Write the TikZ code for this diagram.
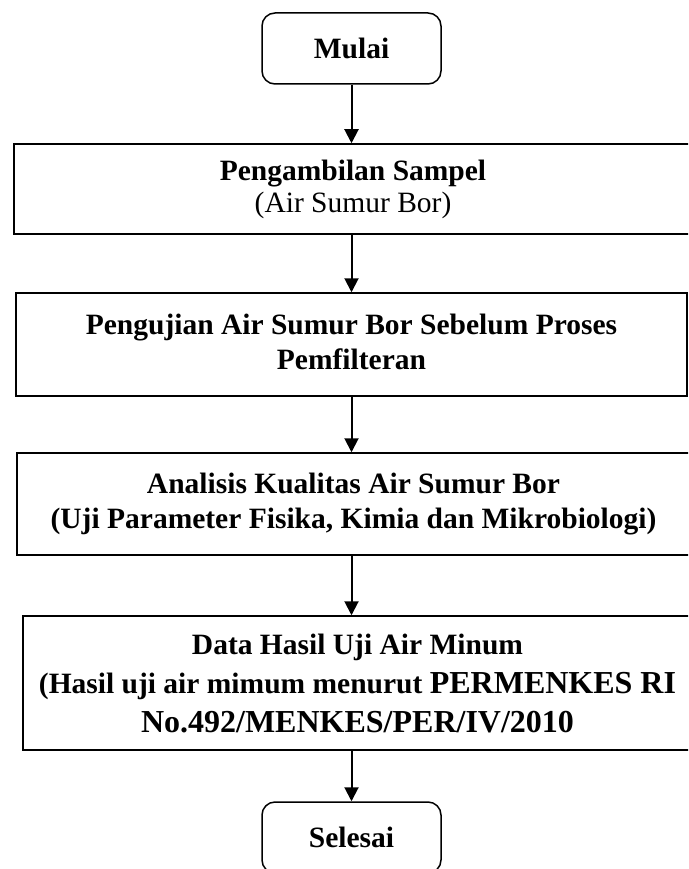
\documentclass[tikz,border=0pt]{standalone}
\usepackage{fontspec}
\setmainfont{Liberation Serif}
\usetikzlibrary{arrows.meta}
\begin{document}
\begin{tikzpicture}[x=1pt,y=-1pt,
  box/.style={draw, line width=1.5pt, inner sep=0pt, align=center,
    font=\bfseries\fontsize{29.5}{35}\selectfont},
  term/.style={box, rounded corners=13pt, minimum width=179pt, minimum height=71pt},
  flow/.style={line width=2pt, -{Triangle[width=14pt,length=14pt]}}]
\clip (0,0) rectangle (688,869);
\node[term] (mulai) at (351.5,48.5) {Mulai};
\node[box, minimum width=678pt, minimum height=90pt] (b1) at (353,189)
  {Pengambilan Sampel\\[-3pt]\mdseries (Air Sumur Bor)};
\node[box, minimum width=671pt, minimum height=103pt] (b2) at (351.5,344.5)
  {\raisebox{6pt}{Pengujian Air Sumur Bor Sebelum Proses}\\\raisebox{6pt}{Pemfilteran}};
\node[box, minimum width=673pt, minimum height=102pt] (b3) at (353.5,504)
  {Analisis Kualitas Air Sumur Bor\\(Uji Parameter Fisika, Kimia dan Mikrobiologi)};
\node[box, minimum width=669pt, minimum height=134pt, font=\bfseries\fontsize{29.5}{39}\selectfont] (b4) at (357.5,683)
  {Data Hasil Uji Air Minum\\(Hasil uji air mimum menurut {\fontsize{32}{39}\selectfont PERMENKES RI}\\{\fontsize{32}{39}\selectfont No.492/MENKES/PER/IV/2010}};
\node[term] (selesai) at (351.5,837.5) {Selesai};
\draw[flow] (mulai.south) -- (mulai.south |- b1.north);
\draw[flow] (mulai.south |- b1.south) -- (mulai.south |- b2.north);
\draw[flow] (mulai.south |- b2.south) -- (mulai.south |- b3.north);
\draw[flow] (mulai.south |- b3.south) -- (mulai.south |- b4.north);
\draw[flow] (selesai.north |- b4.south) -- (selesai.north);
\end{tikzpicture}
\end{document}
